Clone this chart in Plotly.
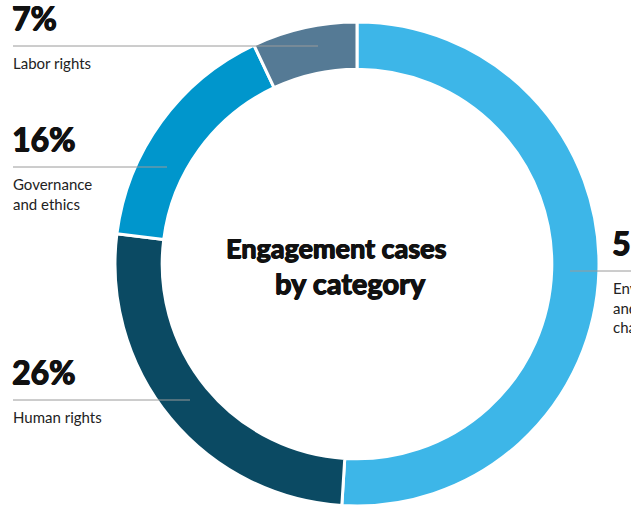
import plotly.graph_objects as go

categories = ["Environment and climate change", "Human rights", "Governance and ethics", "Labor rights"]
values = [51, 26, 16, 7]
pct_labels = ["51%", "26%", "16%", "7%"]
label_lines = [["Environment", "and climate", "change"], ["Human rights"], ["Governance", "and ethics"], ["Labor rights"]]
title_lines = ["Engagement cases", "by category"]
colors = ["#3db6e8", "#0b4a63", "#0096cc", "#557a95"]

W, H = 631, 506
def px(x):
    return x / W
def py(y):
    return 1 - y / H

cx, cy, R = 357, 264, 242

fig = go.Figure(go.Pie(
    labels=categories, values=values, sort=False, direction="clockwise", rotation=0,
    hole=0.805, marker=dict(colors=colors, line=dict(color="white", width=3)),
    textinfo="none", hoverinfo="label+percent", showlegend=False,
    domain=dict(x=[px(cx - R), px(cx + R)], y=[py(cy + R), py(cy - R)]),
))

# label anchor positions (pixel): x of text, y of line, line end x
anchors = {
    "Labor rights": (13, 46, 318),
    "Governance and ethics": (13, 167, 167),
    "Human rights": (13, 400, 190),
    "Environment and climate change": (613, 271, 570),
}

FONT = "Lato"
HEAVY = "0.8px 0 0 #111, -0.5px 0 0 #111, 0 0.5px 0 #111"
shapes = []
annotations = []
for cat, pct, lines in zip(categories, pct_labels, label_lines):
    tx, ly, lend = anchors[cat]
    x0, x1 = (tx, lend) if lend > tx else (lend, W + 20)
    shapes.append(dict(type="line", xref="paper", yref="paper", x0=px(x0), x1=px(x1),
                       y0=py(ly), y1=py(ly), line=dict(color="#9a9a9a", width=1), layer="above"))
    annotations.append(dict(text=pct, xref="paper", yref="paper",
                            x=px(tx - 3), y=py(ly - 7), xanchor="left", yanchor="bottom",
                            showarrow=False,
                            font=dict(family=FONT, size=32, weight="bold", color="#111111", shadow=HEAVY)))
    annotations.append(dict(text="<br>".join(lines), xref="paper", yref="paper",
                            x=px(tx - 2), y=py(ly + 6), xanchor="left", yanchor="top", align="left",
                            showarrow=False, font=dict(family=FONT, size=15, color="#222222")))

title_pos = [(336, 247, 27), (350, 282, 29)]
for line, (tx, ty, fs) in zip(title_lines, title_pos):
    annotations.append(dict(text=line, xref="paper", yref="paper",
                            x=px(tx), y=py(ty), xanchor="center", yanchor="middle",
                            showarrow=False,
                            font=dict(family=FONT, size=fs, weight="bold", color="#111111", shadow=HEAVY)))

fig.update_layout(width=W, height=H, margin=dict(l=0, r=0, t=0, b=0),
                  paper_bgcolor="white", plot_bgcolor="white",
                  shapes=shapes, annotations=annotations)
fig.write_html("out.html", config={"displayModeBar": False},
               post_script="document.body.style.margin='0';document.body.style.overflow='hidden';")
